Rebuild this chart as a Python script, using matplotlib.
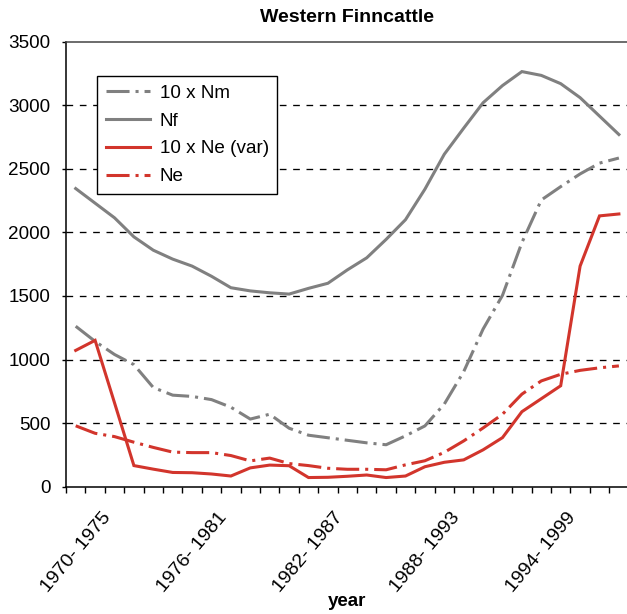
import matplotlib
matplotlib.use("Agg")
import matplotlib.pyplot as plt
import matplotlib.transforms as mtransforms
import numpy as np

plt.rcParams['font.family'] = ['Liberation Sans', 'DejaVu Sans']
plt.rcParams['lines.scale_dashes'] = False

# ---------------- data ----------------
title = "Western Finncattle"
x_label = "year"
series_names = ["10 x Nm", "Nf", "10 x Ne (var)", "Ne"]

nm10 = [1262, 1143, 1040, 960, 780, 720, 710, 685, 625, 532, 570, 460, 405, 385,
        365, 345, 330, 400, 478, 650, 905, 1240, 1505, 1920, 2255, 2360, 2460, 2545, 2585]
nf = [2345, 2230, 2115, 1965, 1860, 1790, 1735, 1655, 1565, 1540, 1525, 1515, 1560, 1600,
      1705, 1800, 1945, 2100, 2340, 2615, 2820, 3020, 3155, 3265, 3235, 3170, 3060, 2915, 2770]
ne_var10 = [1072, 1151, 660, 166, 138, 112, 110, 100, 84, 148, 170, 165, 72, 74,
            82, 92, 72, 84, 157, 192, 211, 290, 386, 590, 692, 794, 1735, 2130, 2145]
ne = [479, 420, 394, 350, 309, 272, 268, 268, 245, 203, 225, 182, 166, 145,
      137, 137, 133, 172, 204, 270, 360, 462, 570, 728, 832, 884, 915, 935, 950]

tick_labels = ["1970- 1975", "1976- 1981", "1982- 1987", "1988- 1993", "1994- 1999"]
tick_label_category = [1, 7, 13, 19, 25]

y_ticks = [0, 500, 1000, 1500, 2000, 2500, 3000, 3500]

# ---------------- figure ----------------
W, H = 627, 614
fig = plt.figure(figsize=(W / 100, H / 100), dpi=100)
ax_left, ax_right, ax_top, ax_bottom = 66, 628.6, 41.7, 486.7
ax = fig.add_axes([ax_left / W, (H - ax_bottom) / H,
                   (ax_right - ax_left) / W, (ax_bottom - ax_top) / H])

x = np.arange(len(nf))
gray = "#808080"
red = "#d2352c"
lw = 2.2
dashdot = (16.6, 4.3, 2.2, 4.3)

l1, = ax.plot(x, nm10, color=gray, lw=lw, dashes=dashdot, dash_capstyle='butt',
              solid_joinstyle='miter', label=series_names[0], zorder=3)
l2, = ax.plot(x, nf, color=gray, lw=lw, label=series_names[1], zorder=3,
              solid_joinstyle='miter')
l3, = ax.plot(x, ne_var10, color=red, lw=lw, label=series_names[2], zorder=4,
              solid_joinstyle='miter')
l4, = ax.plot(x, ne, color=red, lw=lw, dashes=dashdot, dash_capstyle='butt',
              label=series_names[3], zorder=4)

ax.set_xlim(-0.5, len(nf) - 0.5)
ax.set_ylim(0, 3500)

# gridlines
for yv in y_ticks[1:-1]:
    ax.axhline(yv, color='black', lw=0.95, dashes=(4.8, 4.8), zorder=1)

# spines
ax.spines['right'].set_visible(False)
ax.spines['left'].set_linewidth(1.1)
ax.spines['bottom'].set_linewidth(1.1)
ax.spines['top'].set_linewidth(1.1)
ax.spines['top'].set_color('#444444')

# y ticks
ax.set_yticks(y_ticks)
ax.set_yticklabels([str(v) for v in y_ticks])
ax.tick_params(axis='y', direction='out', length=3.2, width=1.0, pad=8,
               labelsize=13.6, colors='black')

# x ticks: minor ticks on category boundaries, labels placed as text
ax.set_xticks([])
ax.set_xticks(np.arange(-0.5, len(nf), 1.0), minor=True)
ax.tick_params(axis='x', which='minor', direction='out', length=4.3, width=1.0)

base = mtransforms.blended_transform_factory(ax.transData, ax.transAxes)
for lab, ci in zip(tick_labels, tick_label_category):
    tr = mtransforms.offset_copy(base, fig=fig, x=6.0, y=-22.8, units='dots')
    ax.text(ci, 0, lab, transform=tr, rotation=50, ha='right', va='top',
            rotation_mode='anchor', fontsize=14, clip_on=False)

# title and axis label
fig.text(347 / W, 1 - 17 / H, title, ha='center', va='center',
         fontsize=14, fontweight='bold')
fig.text(347 / W, 1 - 601 / H, x_label, ha='center', va='center',
         fontsize=13.5, fontweight='bold')

# legend
leg = ax.legend(handles=[l1, l2, l3, l4], loc='upper left',
                bbox_to_anchor=(97 / W, 1 - 76 / H), bbox_transform=fig.transFigure,
                fontsize=13.6, frameon=True, fancybox=False, framealpha=1,
                edgecolor='black', handlelength=2.33, handletextpad=0.53,
                borderpad=0.45, labelspacing=0.56, borderaxespad=0)
leg.get_frame().set_linewidth(1.0)

fig.savefig("out.png", dpi=100)
